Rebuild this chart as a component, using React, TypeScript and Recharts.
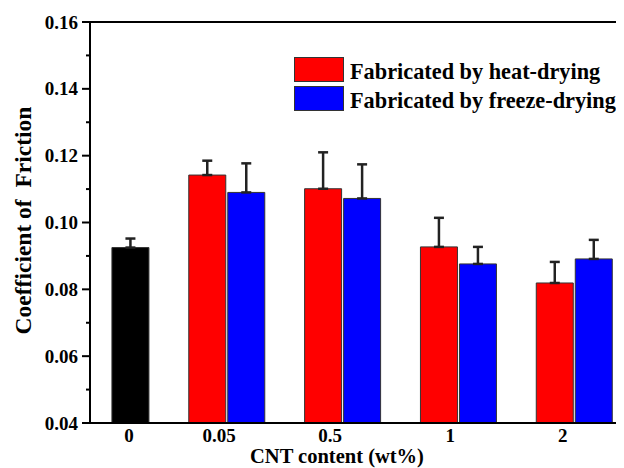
import React from 'react';
import { BarChart, Bar, XAxis, YAxis, ErrorBar, ReferenceLine, Legend } from 'recharts';

const categories = ['0', '0.05', '0.5', '1', '2'];
const pureValues = [0.0925, null, null, null, null];
const pureErr = [0.0027, null, null, null, null];
const heatValues = [null, 0.1142, 0.1101, 0.0927, 0.0819];
const heatErr = [null, 0.0043, 0.0109, 0.0087, 0.0063];
const freezeValues = [null, 0.109, 0.1072, 0.0876, 0.0891];
const freezeErr = [null, 0.0087, 0.0102, 0.0051, 0.0057];
const yTicks = [0.04, 0.05, 0.06, 0.07, 0.08, 0.09, 0.1, 0.11, 0.12, 0.13, 0.14, 0.15, 0.16];
const xTickPositions = [0.157, 0.934, 1.893, 2.93, 3.902];
const seriesNames = ['Fabricated by heat-drying', 'Fabricated by freeze-drying'];
const seriesColors = ['#ff0000', '#0000ff'];

const up = (e: number | null) => (e == null ? null : [0, e]);

const data = categories.map((c, i) => ({
  idx: i,
  cat: c,
  heat: heatValues[i],
  heatE: up(heatErr[i]),
  freeze: freezeValues[i],
  freezeE: up(freezeErr[i]),
  pure: pureValues[i],
  pureE: up(pureErr[i]),
}));

const FONT = "'Liberation Serif', 'Times New Roman', serif";

const YTick = (props: any) => {
  const { x, y, payload, index } = props;
  const axisX = x + 12;
  const major = index % 2 === 0;
  return (
    <g>
      <line x1={axisX - (major ? 8 : 4)} y1={y} x2={axisX} y2={y} stroke="#000" strokeWidth={2} />
      {major && (
        <text x={x} y={y} dy="0.35em" textAnchor="end" fontFamily={FONT} fontWeight="bold" fontSize={19} fill="#000">
          {Number(payload.value).toFixed(2)}
        </text>
      )}
    </g>
  );
};

const YLabel = (props: any) => {
  const vb = props.viewBox || { x: 0, y: 14, width: 82, height: 401 };
  const cx = 23;
  const cy = vb.y + vb.height / 2 - 2;
  return (
    <text
      x={cx}
      y={cy}
      transform={`rotate(-90, ${cx}, ${cy})`}
      textAnchor="middle"
      fontFamily={FONT}
      fontWeight="bold"
      fontSize={23.5}
      fill="#000"
      style={{ whiteSpace: 'pre' }}
    >
      Coefficient of  Friction
    </text>
  );
};

const XLabel = (props: any) => {
  const vb = props.viewBox || { x: 82, y: 415, width: 534, height: 45 };
  return (
    <text x={329} y={vb.y + 40} textAnchor="middle" fontFamily={FONT} fontWeight="bold" fontSize={20.5} fill="#000">
      CNT content (wt%)
    </text>
  );
};

const LegendContent = () => (
  <div style={{ display: 'flex', flexDirection: 'column', gap: 4 }}>
    {seriesNames.map((n, i) => (
      <div key={n} style={{ display: 'flex', alignItems: 'flex-start', height: 25 }}>
        <div style={{ width: 48, height: 23, background: seriesColors[i], border: '1px solid #333', flexShrink: 0 }} />
        <span
          style={{
            marginLeft: 6,
            fontFamily: FONT,
            fontWeight: 'bold',
            fontSize: 22.3,
            lineHeight: '25px',
            position: 'relative',
            top: 2,
            whiteSpace: 'nowrap',
            color: '#000',
          }}
        >
          {n}
        </span>
      </div>
    ))}
  </div>
);

export default function App() {
  return (
    <div style={{ width: 616, height: 460, overflow: 'hidden', position: 'relative' }}>
      <BarChart
        width={616}
        height={460}
        data={data}
        margin={{ top: 14, right: 0, bottom: 0, left: 0 }}
        barGap={2}
      >
        <XAxis
          dataKey="idx"
          type="number"
          domain={[-0.18, 4.43]}
          allowDataOverflow
          ticks={xTickPositions}
          tickFormatter={(_v: any, i: number) => categories[i]}
          interval={0}
          height={45}
          tickLine={false}
          tickSize={0}
          tickMargin={6}
          axisLine={{ stroke: '#000', strokeWidth: 2 }}
          tick={{ fontFamily: FONT, fontWeight: 'bold', fontSize: 19, fill: '#000' }}
          label={<XLabel />}
        />
        <YAxis
          type="number"
          domain={[0.04, 0.16]}
          allowDataOverflow
          ticks={yTicks}
          interval={0}
          width={82}
          tickLine={false}
          tickSize={8}
          tickMargin={4}
          axisLine={{ stroke: '#000', strokeWidth: 2 }}
          tick={<YTick />}
          label={<YLabel />}
        />
        <ReferenceLine y={0.16} stroke="#000" strokeWidth={2} ifOverflow="visible" />
        <Legend
          verticalAlign="middle"
          align="center"
          layout="horizontal"
          content={<LegendContent />}
          wrapperStyle={{ top: 49, left: 286, width: 340, height: 60 }}
        />
        <Bar dataKey="heat" name={seriesNames[0]} stackId="a" barSize={37} fill="#ff0000" stroke="#333" strokeWidth={1} isAnimationActive={false}>
          <ErrorBar dataKey="heatE" width={5} stroke="#222" strokeWidth={2.5} direction="y" />
        </Bar>
        <Bar dataKey="freeze" name={seriesNames[1]} stackId="b" barSize={37} fill="#0000ff" stroke="#333" strokeWidth={1} isAnimationActive={false}>
          <ErrorBar dataKey="freezeE" width={5} stroke="#222" strokeWidth={2.5} direction="y" />
        </Bar>
        <Bar dataKey="pure" name="Pure" stackId="b" barSize={37} fill="#000000" stroke="#333" strokeWidth={1} isAnimationActive={false} legendType="none">
          <ErrorBar dataKey="pureE" width={5} stroke="#222" strokeWidth={2.5} direction="y" />
        </Bar>
      </BarChart>
    </div>
  );
}
